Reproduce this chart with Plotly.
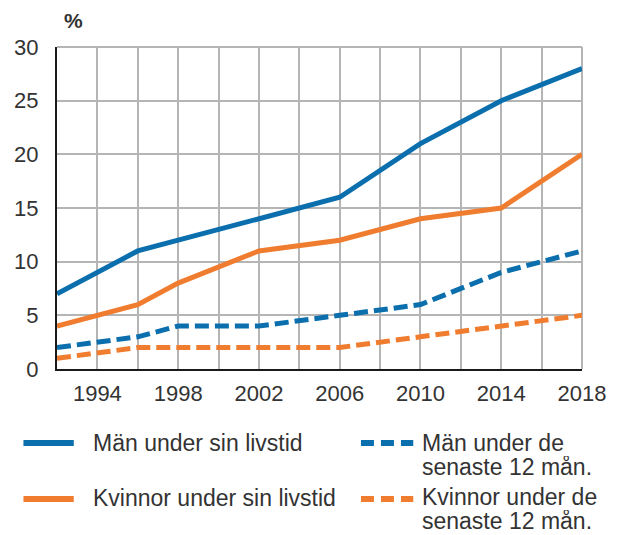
import plotly.graph_objects as go

# ---- data ----
years = [1992, 1996, 1998, 2002, 2006, 2010, 2014, 2018]
man_livstid = [7, 11, 12, 14, 16, 21, 25, 28]
kvinnor_livstid = [4, 6, 8, 11, 12, 14, 15, 20]
man_12 = [2, 3, 4, 4, 5, 6, 9, 11]
kvinnor_12 = [1, 2, 2, 2, 2, 3, 4, 5]
x_ticks = [1994, 1998, 2002, 2006, 2010, 2014, 2018]
y_ticks = [0, 5, 10, 15, 20, 25, 30]

series_names = ["Män under sin livstid", "Kvinnor under sin livstid",
                "Män under de senaste 12 mån.", "Kvinnor under de senaste 12 mån."]

BLUE = "#0B6FAE"
ORANGE = "#F07D2F"
GRID = "#B5B5B5"
TEXT = "#333333"
FONT = "Liberation Sans, Arial, sans-serif"

W, H = 618, 535
L, R, T, B = 57, 29, 47, 166
PW, PH = W - L - R, H - T - B

def px(x):
    return (x - L) / PW

def py(y):
    return (H - B - y) / PH

fig = go.Figure()
fig.add_trace(go.Scatter(x=years, y=man_12, mode="lines", name=series_names[2],
                         line=dict(color=BLUE, width=5, dash="14px,6px")))
fig.add_trace(go.Scatter(x=years, y=kvinnor_12, mode="lines", name=series_names[3],
                         line=dict(color=ORANGE, width=5, dash="14px,6px")))
fig.add_trace(go.Scatter(x=years, y=kvinnor_livstid, mode="lines", name=series_names[1],
                         line=dict(color=ORANGE, width=5)))
fig.add_trace(go.Scatter(x=years, y=man_livstid, mode="lines", name=series_names[0],
                         line=dict(color=BLUE, width=5)))

fig.update_layout(
    width=W, height=H,
    margin=dict(l=L, r=R, t=T, b=B, pad=0),
    paper_bgcolor="white", plot_bgcolor="white",
    showlegend=False,
    font=dict(family=FONT, color=TEXT, size=22),
)
fig.update_xaxes(
    range=[1992, 2018], tickvals=x_ticks, ticktext=[str(v) for v in x_ticks],
    showgrid=True, gridcolor=GRID, gridwidth=2,
    minor=dict(dtick=2, tick0=1992, showgrid=True, gridcolor=GRID, gridwidth=2),
    showline=True, linecolor="#1a1a1a", linewidth=2,
    ticks="", ticklabelstandoff=4, zeroline=False,
    tickfont=dict(size=22, color=TEXT),
)
fig.update_yaxes(
    range=[0, 30], tickvals=y_ticks,
    showgrid=True, gridcolor=GRID, gridwidth=2,
    showline=True, linecolor="#1a1a1a", linewidth=2,
    ticks="", ticklabelstandoff=12, zeroline=False,
    tickfont=dict(size=22, color=TEXT),
)

# right and top border in grid colour
fig.add_shape(type="line", xref="paper", yref="paper", x0=1, x1=1, y0=0, y1=1,
              line=dict(color=GRID, width=2), layer="below")
fig.add_shape(type="line", xref="paper", yref="paper", x0=0, x1=1, y0=1, y1=1,
              line=dict(color=GRID, width=2), layer="below")

# "%" label
fig.add_annotation(text="<b>%</b>", xref="paper", yref="paper", x=px(74), y=py(21),
                   xanchor="center", yanchor="middle", showarrow=False,
                   font=dict(size=21, color=TEXT))

# manual legend
leg = [
    (BLUE, "solid", 443, 23, 74, 91, ["Män under sin livstid"], [443]),
    (ORANGE, "solid", 499, 23, 74, 91, ["Kvinnor under sin livstid"], [498]),
    (BLUE, "13px,7px", 443, 365, 418, 425, ["Män under de", "senaste 12 mån."], [443, 467]),
    (ORANGE, "13px,7px", 499, 365, 418, 425, ["Kvinnor under de", "senaste 12 mån."], [497, 521]),
]
for color, dash, ly, x0, x1, tx, lines, tys in leg:
    fig.add_shape(type="line", xref="paper", yref="paper",
                  x0=px(x0), x1=px(x1), y0=py(ly), y1=py(ly),
                  line=dict(color=color, width=6, dash=dash))
    for txt, ty in zip(lines, tys):
        fig.add_annotation(text=txt, xref="paper", yref="paper", x=px(tx), y=py(ty),
                           xanchor="left", yanchor="middle", showarrow=False,
                           height=22, valign="middle",
                           font=dict(size=23, color=TEXT))

fig.write_html("out.html", config={"displayModeBar": False},
               post_script="document.body.style.margin='0';")
